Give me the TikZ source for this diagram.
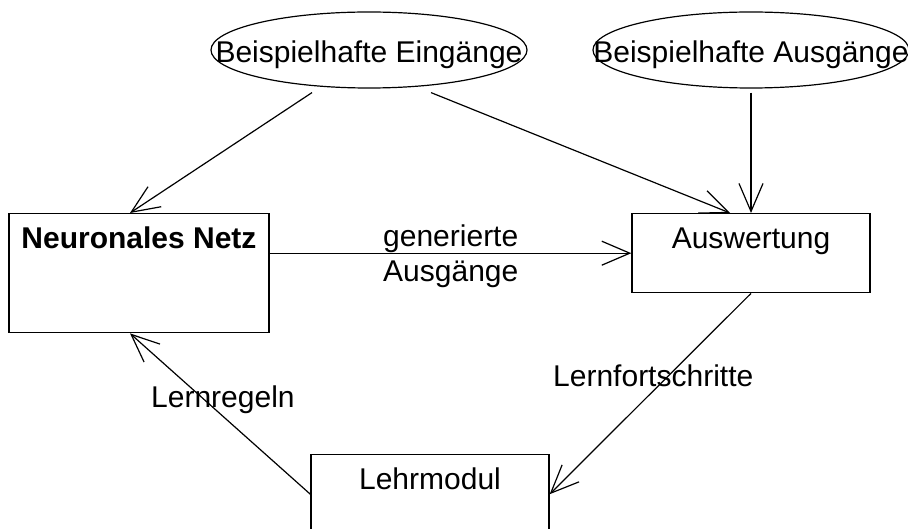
\documentclass[tikz,border=0pt]{standalone}
\usepackage{fontspec}
\setmainfont{Liberation Sans}
\usepackage{tikz}
\usetikzlibrary{arrows.meta,shapes.geometric,positioning,calc}

\begin{document}
\begin{tikzpicture}[x=1pt,y=-1pt,
  font=\fontsize{30}{35}\selectfont,
  modul/.style={draw, line width=1.4pt, rectangle, inner sep=0pt, anchor=north,
    minimum width=238pt, text height=35pt, text depth=44pt},
  beispiel/.style={draw, line width=1.2pt, ellipse, inner sep=0pt,
    minimum width=316pt, minimum height=76pt},
  pfeil/.style={line width=1.2pt, -{Straight Barb[length=28pt,width=24pt]}},
  beschr/.style={inner sep=0pt, anchor=base west, align=left}]
\useasboundingbox (0,0) rectangle (908,529);
\clip (0,0) rectangle (908,529);

% Beispieldaten
\node[beispiel, label={[yshift=-5pt]center:Beispielhafte Eingänge}] (beispEin) at (369,50) {};
\node[beispiel, label={[yshift=-5pt]center:Beispielhafte Ausgänge}] (beispAus) at (751,50) {};

% Module
\node[modul, minimum width=260pt, text depth=84pt, font=\fontsize{30}{35}\selectfont\bfseries] (netz) at (139,213) {Neuronales Netz};
\node[modul] (ausw) at (751,213) {Auswertung};
\node[modul] (lehr) at (430,454) {Lehrmodul};

% Verbindungen
\draw[pfeil] ([xshift=-57pt,yshift=-4pt]beispEin.south) -- ([xshift=-9pt]netz.north);
\draw[pfeil] ([xshift=62pt,yshift=-4pt]beispEin.south) -- ([xshift=-21pt]ausw.north);
\draw[pfeil] ([yshift=-4pt]beispAus.south) -- (ausw.north);
\draw[pfeil] (netz.east |- ausw.west) -- (ausw.west);
\draw[pfeil] (ausw.south) -- (lehr.east);
\draw[pfeil] (lehr.west) -- ([xshift=-9pt]netz.south);

% Beschriftungen
\node[beschr] (generiert) at (383,282) {generierte\\Ausgänge};
\node[beschr] (fortschritt) at (553,386) {Lernfortschritte};
\node[beschr] (regeln) at (151,407) {Lernregeln};
\end{tikzpicture}
\end{document}
